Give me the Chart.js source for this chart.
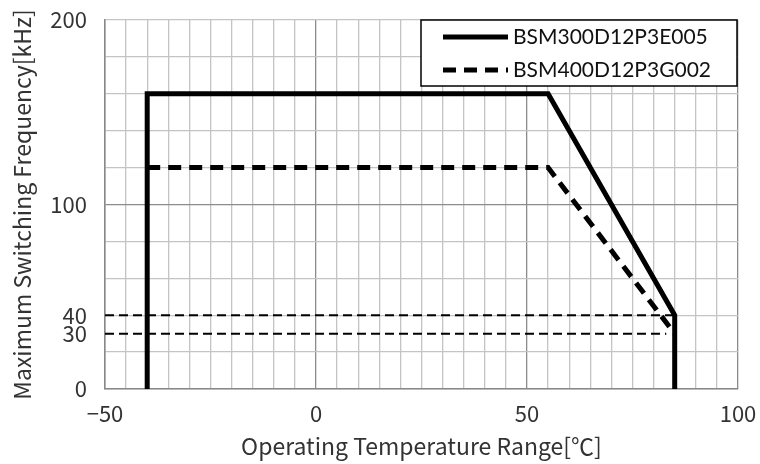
<!DOCTYPE html>
<html>
<head>
<meta charset="utf-8">
<script src="https://cdn.jsdelivr.net/npm/chart.js@4/dist/chart.umd.min.js"></script>
<style>
  html, body { margin: 0; padding: 0; background: #fff; }
  #wrap { width: 760px; height: 464px; }
</style>
</head>
<body>
<div id="wrap"><canvas id="chart"></canvas></div>
<script>
// Series data (temperature in °C, frequency in kHz)
const labelA = "BSM300D12P3E005";
const tempA = [-40, -40, 55, 85, 85];
const freqA = [0, 160, 160, 40, 0];

const labelB = "BSM400D12P3G002";
const tempB = [-40, 55, 85];
const freqB = [120, 120, 30];

// thin dashed guide lines
const guide40Temp = [-50, 85];
const guide40Freq = [40, 40];
const guide30Temp = [-50, 83];
const guide30Freq = [30, 30];

const xTickLabels = [-50, 0, 50, 100];
const yTickLabels = [0, 30, 40, 100, 200];

function pts(xs, ys) {
    return xs.map(function (x, i) { return { x: x, y: ys[i] }; });
}

const tickFont = { family: "'Noto Sans CJK JP', 'DejaVu Sans', sans-serif", size: 22 };
const titleFont = { family: "'Noto Sans CJK JP', 'DejaVu Sans', sans-serif", size: 23 };

// boxed legend drawn inside the plot area
const boxLegend = {
    id: "boxLegend",
    afterDraw: function (chart) {
        const ctx = chart.ctx;
        const x0 = 421, y0 = 20, w = 316, h = 66;
        ctx.save();
        ctx.fillStyle = "#fff";
        ctx.fillRect(x0, y0, w, h);
        ctx.strokeStyle = "#000";
        ctx.lineWidth = 1.5;
        ctx.strokeRect(x0, y0, w, h);
        const items = chart.data.datasets.filter(function (d) { return d.inLegend; });
        items.forEach(function (d, i) {
            const y = y0 + 17 + i * 33;
            ctx.beginPath();
            ctx.setLineDash(d.borderDash || []);
            ctx.lineWidth = d.borderWidth;
            ctx.strokeStyle = d.borderColor;
            ctx.lineCap = "butt";
            ctx.moveTo(443, y);
            ctx.lineTo(508, y);
            ctx.stroke();
            ctx.setLineDash([]);
            ctx.fillStyle = "#111";
            ctx.font = "21px Lato, 'Liberation Sans', sans-serif";
            ctx.textBaseline = "middle";
            ctx.fillText(d.label, 513, y);
        });
        ctx.restore();
    }
};

new Chart(document.getElementById("chart").getContext("2d"), {
    type: "scatter",
    data: {
        datasets: [
            {
                label: labelA, inLegend: true,
                data: pts(tempA, freqA),
                showLine: true, borderColor: "#000", borderWidth: 5,
                pointRadius: 0, fill: false
            },
            {
                label: labelB, inLegend: true,
                data: pts(tempB, freqB),
                showLine: true, borderColor: "#000", borderWidth: 5,
                borderDash: [13, 8], pointRadius: 0, fill: false
            },
            {
                label: "40kHz",
                data: pts(guide40Temp, guide40Freq),
                showLine: true, borderColor: "#000", borderWidth: 2,
                borderDash: [9, 5], pointRadius: 0, fill: false
            },
            {
                label: "30kHz",
                data: pts(guide30Temp, guide30Freq),
                showLine: true, borderColor: "#000", borderWidth: 2,
                borderDash: [9, 5], pointRadius: 0, fill: false
            }
        ]
    },
    options: {
        responsive: true,
        maintainAspectRatio: false,
        animation: false,
        layout: { padding: { top: 20, right: 22, left: 0, bottom: 0 } },
        plugins: {
            legend: { display: false },
            tooltip: { enabled: false }
        },
        scales: {
            x: {
                type: "linear", min: -50, max: 100,
                afterBuildTicks: function (axis) {
                    const t = [];
                    for (let v = -50; v <= 100; v += 5) t.push({ value: v });
                    axis.ticks = t;
                },
                afterFit: function (axis) {
                    axis.height = 75;
                    axis.paddingLeft = 0;
                    axis.paddingRight = 0;
                },
                border: { color: "#888", width: 1.5 },
                grid: {
                    drawTicks: false,
                    color: function (c) {
                        return xTickLabels.indexOf(c.tick.value) >= 0 ? "#8c8c8c" : "#c4c4c4";
                    },
                    lineWidth: 1.3
                },
                ticks: {
                    autoSkip: false, maxRotation: 0, padding: 11,
                    color: "#333", font: tickFont,
                    callback: function (v) {
                        if (xTickLabels.indexOf(v) < 0) return "";
                        return v < 0 ? "\u2212" + Math.abs(v) : String(v);
                    }
                },
                title: {
                    display: true, text: "Operating Temperature Range[\u2103]",
                    color: "#333", font: titleFont, padding: { top: 2 }
                }
            },
            y: {
                type: "linear", min: 0, max: 200,
                afterBuildTicks: function (axis) {
                    const t = [];
                    for (let v = 0; v <= 200; v += 20) {
                        t.push({ value: v });
                        if (v === 20) t.push({ value: 30 });
                    }
                    axis.ticks = t;
                },
                afterFit: function (axis) {
                    axis.width = 105;
                    axis.paddingTop = 0;
                    axis.paddingBottom = 0;
                },
                border: { color: "#888", width: 1.5 },
                grid: {
                    drawTicks: false,
                    color: function (c) {
                        const v = c.tick.value;
                        if (v === 30) return "rgba(0,0,0,0)";
                        return v === 100 ? "#8c8c8c" : "#c4c4c4";
                    },
                    lineWidth: 1.3
                },
                ticks: {
                    autoSkip: false, padding: 18,
                    color: "#333", font: tickFont,
                    callback: function (v) {
                        return yTickLabels.indexOf(v) >= 0 ? String(v) : "";
                    }
                },
                title: {
                    display: true, text: "Maximum Switching Frequency[kHz]",
                    color: "#333", font: titleFont, padding: { top: 8, bottom: 0 }
                }
            }
        }
    },
    plugins: [boxLegend]
});
</script>
</body>
</html>
